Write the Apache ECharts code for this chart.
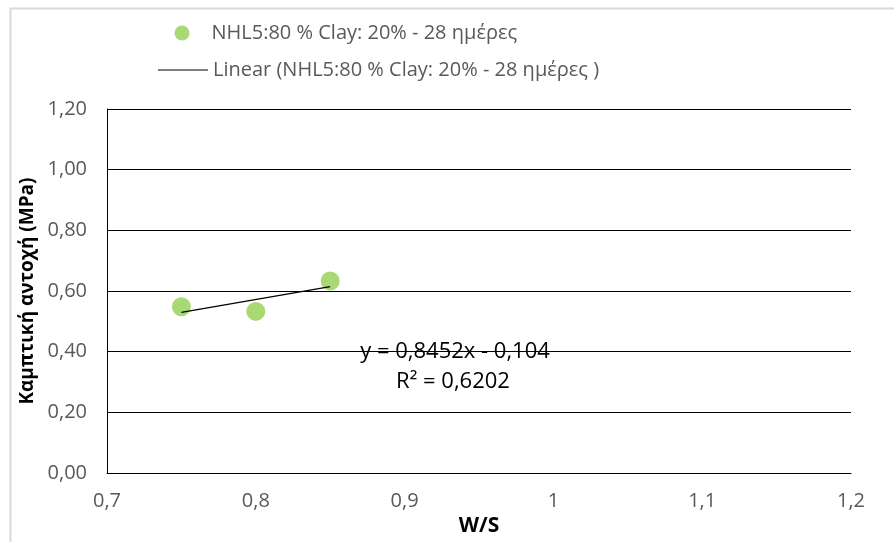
<!DOCTYPE html>
<html><head><meta charset="utf-8">
<script src="https://cdn.jsdelivr.net/npm/echarts@6/dist/echarts.min.js"></script>
<style>html,body{margin:0;padding:0;background:#fff}#c{width:894px;height:542px}</style>
</head><body><div id="c"></div>
<script>
const seriesName = 'NHL5:80 % Clay: 20% - 28 ημέρες';
const trendName = 'Linear (NHL5:80 % Clay: 20% - 28 ημέρες )';
const xValues = [0.75, 0.80, 0.85];
const yValues = [0.548, 0.533, 0.633];
const trendSlope = 0.8452;
const trendIntercept = -0.104;
const equationLines = ['y = 0,8452x - 0,104', 'R² = 0,6202'];
const xTicks = [0.7, 0.8, 0.9, 1.0, 1.1, 1.2];
const yTicks = [0, 0.2, 0.4, 0.6, 0.8, 1.0, 1.2];

const FONT = "'Open Sans', Lato, sans-serif";
const xMin = Math.min(...xValues), xMax = Math.max(...xValues);
const trendData = [[xMin, trendSlope * xMin + trendIntercept], [xMax, trendSlope * xMax + trendIntercept]];

const chart = echarts.init(document.getElementById('c'));
chart.setOption({
  animation: false,
  backgroundColor: '#fff',
  grid: { left: 107, right: 43, top: 109, bottom: 67, containLabel: false },
  legend: [
    { data: [seriesName], left: 174.5, top: 23, padding: 0, icon: 'circle', itemWidth: 15, itemHeight: 15,
      textStyle: { fontFamily: FONT, fontSize: 20, color: '#595959', padding: [0, 0, 0, 17] } },
    { data: [trendName], left: 158, top: 60, padding: 0, icon: 'rect', itemWidth: 50, itemHeight: 1,
      textStyle: { fontFamily: FONT, fontSize: 20, color: '#595959', padding: [0, 0, 0, 0] } }
  ],
  xAxis: {
    type: 'value', min: xTicks[0], max: xTicks[xTicks.length - 1], interval: 0.1,
    name: 'W/S', nameLocation: 'middle', nameGap: 42,
    nameTextStyle: { fontFamily: FONT, fontSize: 21, fontWeight: 'bold', color: '#000' },
    axisLine: { show: true, onZero: false, lineStyle: { color: '#000', width: 1 } },
    axisTick: { show: false },
    splitLine: { show: false },
    axisLabel: { margin: 18, fontFamily: FONT, fontSize: 20, color: '#595959',
      formatter: v => String(Math.round(v * 10) / 10).replace('.', ',') }
  },
  yAxis: {
    type: 'value', min: yTicks[0], max: yTicks[yTicks.length - 1], interval: 0.2,
    name: 'Καμπτική αντοχή (MPa)', nameLocation: 'middle', nameGap: 64, nameRotate: 90,
    nameTextStyle: { fontFamily: FONT, fontSize: 19, fontWeight: 'bold', color: '#000' },
    axisLine: { show: true, lineStyle: { color: '#000', width: 1 } },
    axisTick: { show: false },
    splitLine: { show: true, lineStyle: { color: '#000', width: 1 } },
    axisLabel: { margin: 20, fontFamily: FONT, fontSize: 20, color: '#595959',
      formatter: v => v.toFixed(2).replace('.', ',') }
  },
  series: [
    { name: seriesName, type: 'scatter', data: xValues.map((x, i) => [x, yValues[i]]),
      symbol: 'circle', symbolSize: 19, itemStyle: { color: '#92d050' }, z: 3 },
    { name: trendName, type: 'line', data: trendData, symbol: 'none', showSymbol: false,
      lineStyle: { color: '#000', width: 1.3 }, itemStyle: { color: '#000' }, z: 4 }
  ],
  graphic: [
    { type: 'rect', left: 8, top: 6, shape: { width: 2000, height: 2000 }, silent: true, z: -10,
      style: { fill: 'none', stroke: '#d9d9d9', lineWidth: 2 } },
    { type: 'text', x: 455, y: 352, z: 10, style: { text: equationLines[0], fontFamily: FONT, fontSize: 22, fill: '#000', align: 'center', verticalAlign: 'middle' } },
    { type: 'text', x: 453, y: 382, z: 10, style: { text: equationLines[1], fontFamily: FONT, fontSize: 22, fill: '#000', align: 'center', verticalAlign: 'middle' } }
  ]
});
</script></body></html>
